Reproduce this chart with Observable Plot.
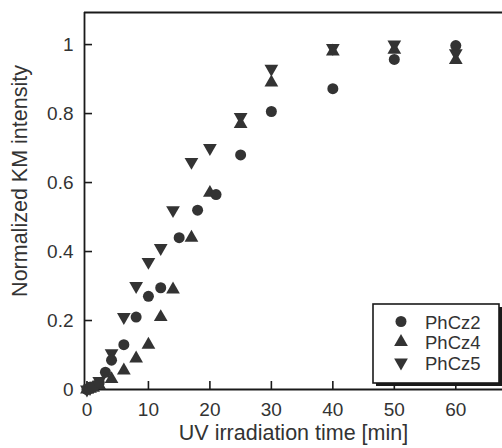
<!DOCTYPE html>
<html><head><meta charset="utf-8">
<script src="https://cdn.jsdelivr.net/npm/d3@7"></script>
<script src="https://cdn.jsdelivr.net/npm/@observablehq/plot@0.6"></script>
<style>body{margin:0;background:#fff} #chart svg{display:block}</style>
</head><body><div id="chart"></div>
<script>
const seriesNames = ["PhCz2", "PhCz4", "PhCz5"];
const timePhCz2 = [0, 0.5, 1, 2, 3, 4, 6, 8, 10, 12, 15, 18, 21, 25, 30, 40, 50, 60];
const valPhCz2  = [0, 0.003, 0.008, 0.02, 0.05, 0.085, 0.13, 0.21, 0.27, 0.295, 0.44, 0.52, 0.565, 0.68, 0.806, 0.872, 0.957, 0.997];
const timePhCz4 = [0, 0.5, 1, 2, 4, 6, 8, 10, 12, 14, 17, 20, 25, 30, 40, 50, 60];
const valPhCz4  = [0, 0.002, 0.005, 0.012, 0.03, 0.055, 0.09, 0.13, 0.21, 0.29, 0.44, 0.57, 0.77, 0.89, 0.98, 0.985, 0.955];
const timePhCz5 = [0, 0.5, 1, 2, 4, 6, 8, 10, 12, 14, 17, 20, 25, 30, 40, 50, 60];
const valPhCz5  = [0, 0.004, 0.01, 0.025, 0.105, 0.21, 0.30, 0.37, 0.41, 0.52, 0.66, 0.70, 0.79, 0.93, 0.99, 1.0, 0.975];
const xTicks = [0, 10, 20, 30, 40, 50, 60];
const yTicks = [0, 0.2, 0.4, 0.6, 0.8, 1];
const xLabel = "UV irradiation time [min]";
const yLabel = "Normalized KM intensity";

const toRows = (name, ts, vs) => ts.map((t, i) => ({series: name, time: t, value: vs[i]}));
const d2 = toRows("PhCz2", timePhCz2, valPhCz2);
const d4 = toRows("PhCz4", timePhCz4, valPhCz4);
const d5 = toRows("PhCz5", timePhCz5, valPhCz5);

const xDom = [-0.4, 67.6], yDom = [0, 1.093];
const ink = "#1a1a1a", markFill = "#333";
const font = "'Liberation Sans', Arial, Helvetica, sans-serif";

const plot = Plot.plot({
  width: 502, height: 448,
  marginLeft: 84, marginRight: 0, marginTop: 12, marginBottom: 59,
  style: {fontFamily: font, color: ink, background: "#fff", overflow: "visible"},
  x: {domain: xDom},
  y: {domain: yDom},
  marks: [
    Plot.ruleY([yDom[1]], {stroke: ink, strokeWidth: 1.8}),
    Plot.ruleX([xDom[0]], {stroke: ink, strokeWidth: 1.8}),
    Plot.ruleY([0], {stroke: ink, strokeWidth: 1.8}),
    Plot.axisX(xTicks, {tickSize: -8, tickPadding: 21, fontSize: 19, tickFormat: d => String(d), label: null, strokeWidth: 1.6, fill: "#333"}),
    Plot.axisY(yTicks, {tickSize: -8, tickPadding: 19, fontSize: 19, tickFormat: d => String(d), label: null, strokeWidth: 1.6, fill: "#333"}),
    Plot.dot(d4, {x: "time", y: "value", symbol: "triangle", r: 5.1, fill: markFill, stroke: "none"}),
    Plot.dot(d5, {x: "time", y: "value", symbol: "triangle", rotate: 180, r: 5.1, fill: markFill, stroke: "none"}),
    Plot.dot(d2, {x: "time", y: "value", symbol: "circle", r: 5.5, fill: markFill, stroke: "none"}),
    Plot.text([xLabel], {frameAnchor: "bottom", dy: 44, text: d => d, fontSize: 21.5, fill: "#333", textAnchor: "middle", lineAnchor: "middle"}),
    Plot.text([yLabel], {frameAnchor: "left", dx: -64, dy: -20, rotate: -90, text: d => d, fontSize: 21.5, fill: "#333", textAnchor: "middle", lineAnchor: "middle"})
  ]
});
document.getElementById("chart").appendChild(plot);

// legend box (bottom-right, inside plot)
const svg = d3.select(plot);
const lg = svg.append("g").attr("font-family", font).attr("text-anchor", "start");
const bx = 373, by = 304, bw = 126, bh = 79;
lg.append("rect").attr("x", bx + 3).attr("y", by + 3).attr("width", bw).attr("height", bh).attr("fill", ink);
lg.append("rect").attr("x", bx).attr("y", by).attr("width", bw).attr("height", bh).attr("fill", "#fff").attr("stroke", ink).attr("stroke-width", 1.6);
const legSyms = [d3.symbolCircle, d3.symbolTriangle, d3.symbolTriangle];
const legSizes = [Math.PI * 5.5 * 5.5, Math.PI * 5.1 * 5.1, Math.PI * 5.1 * 5.1];
const legRot = [0, 0, 180];
seriesNames.forEach((name, i) => {
  const cy = 321.5 + i * 20.5;
  lg.append("path").attr("d", d3.symbol(legSyms[i], legSizes[i])())
    .attr("transform", `translate(401,${cy}) rotate(${legRot[i]})`).attr("fill", markFill);
  lg.append("text").attr("x", 425).attr("y", cy + 7).attr("font-size", 18.5).attr("fill", "#333").attr("text-anchor", "start").text(name);
});
</script>
</body></html>
